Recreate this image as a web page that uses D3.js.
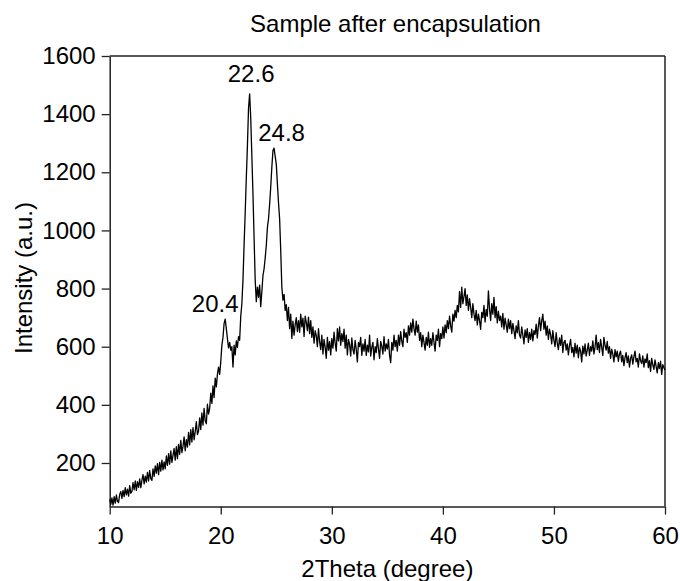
<!DOCTYPE html>
<html>
<head>
<meta charset="utf-8">
<script src="https://cdn.jsdelivr.net/npm/d3@7"></script>
<style>
  html, body { margin: 0; padding: 0; background: #fff; }
  svg { display: block; font-family: "Liberation Sans", Arial, sans-serif; }
</style>
</head>
<body>
<svg id="chart" width="680" height="581"></svg>
<script>
// ---- data ----
const thetaStart = 10;
const thetaStep = 0.1;
const intensity = [
  // 10.x
  75, 58, 80, 55, 84, 62, 90, 68, 64, 92,
  // 11.x
  102, 78, 106, 84, 115, 90, 110, 86, 122, 96,
  // 12.x
  102, 132, 108, 138, 106, 136, 116, 145, 115, 140,
  // 13.x
  160, 128, 155, 134, 168, 138, 174, 146, 140, 180,
  // 14.x
  154, 190, 165, 198, 160, 202, 172, 210, 176, 204,
  // 15.x
  180, 224, 192, 232, 196, 242, 202, 226, 250, 210,
  // 16.x
  256, 215, 264, 230, 278, 236, 258, 290, 242, 280,
  // 17.x
  255, 305, 262, 315, 272, 322, 280, 308, 342, 298,
  // 18.x
  310, 355, 315, 372, 330, 388, 345, 335, 402, 368,
  // 19.x
  388, 440, 405, 465, 425, 492, 462, 505, 530, 505,
  // 20.x
  548, 605, 632, 680, 695, 662, 628, 596, 615, 588,
  // 21.x
  600, 530, 605, 572, 620, 598, 635, 622, 705, 748,
  // 22.x
  830, 950, 1060, 1180, 1290, 1420, 1470, 1385, 1255, 1125,
  // 23.x
  975, 830, 755, 805, 770, 812, 738, 790, 845, 868,
  // 24.x
  905, 948, 1010, 1040, 1090, 1150, 1218, 1275, 1283, 1255,
  // 25.x
  1228, 1160, 1095, 1040, 930, 805, 760, 780, 725, 745,
  // 26.x
  690, 735, 662, 712, 628, 688, 640, 675, 700, 652,
  // 27.x
  690, 650, 712, 668, 698, 635, 705, 684, 655, 702,
  // 28.x
  645, 690, 632, 668, 612, 655, 638, 600, 662, 618,
  // 29.x
  590, 640, 575, 625, 598, 560, 632, 588, 618, 572,
  // 30.x
  628, 595, 650, 612, 585, 662, 620, 668, 605, 645,
  // 31.x
  618, 660, 595, 640, 572, 625, 608, 568, 630, 590,
  // 32.x
  575, 622, 590, 548, 615, 600, 632, 570, 610, 585,
  // 33.x
  625, 570, 605, 582, 640, 568, 598, 615, 555, 600,
  // 34.x
  580, 628, 592, 560, 618, 602, 575, 635, 585, 610,
  // 35.x
  592, 625, 570, 545, 615, 588, 640, 600, 622, 585,
  // 36.x
  640, 605, 652, 618, 600, 660, 632, 648, 615, 672,
  // 37.x
  640, 682, 650, 695, 662, 640, 688, 650, 675, 622,
  // 38.x
  648, 600, 640, 615, 588, 632, 605, 650, 598, 628,
  // 39.x
  605, 648, 615, 585, 640, 622, 660, 600, 645, 628,
  // 40.x
  668, 630, 675, 648, 690, 662, 705, 672, 650, 712,
  // 41.x
  688, 725, 700, 742, 720, 790, 735, 805, 748, 772,
  // 42.x
  800, 742, 778, 725, 765, 735, 700, 748, 712, 690,
  // 43.x
  725, 675, 712, 690, 660, 718, 700, 742, 685, 728,
  // 44.x
  705, 792, 730, 690, 748, 712, 770, 700, 738, 682,
  // 45.x
  722, 690, 705, 668, 715, 660, 698, 675, 650, 695,
  // 46.x
  662, 690, 645, 680, 655, 628, 672, 648, 690, 640,
  // 47.x
  630, 668, 640, 610, 658, 632, 662, 615, 648, 625,
  // 48.x
  660, 620, 655, 642, 678, 630, 672, 700, 655, 690,
  // 49.x
  712, 660, 688, 640, 672, 625, 660, 642, 610, 655,
  // 50.x
  622, 600, 648, 612, 590, 630, 605, 640, 580, 615,
  // 51.x
  622, 588, 610, 572, 605, 625, 580, 598, 565, 612,
  // 52.x
  578, 605, 562, 598, 585, 548, 602, 575, 610, 568,
  // 53.x
  588, 612, 570, 600, 585, 620, 575, 598, 640, 590,
  // 54.x
  615, 580, 625, 598, 570, 632, 605, 588, 618, 578,
  // 55.x
  600, 560, 592, 575, 548, 590, 565, 585, 550, 575,
  // 56.x
  585, 548, 570, 535, 562, 580, 545, 568, 530, 560,
  // 57.x
  572, 540, 565, 585, 548, 560, 530, 575, 552, 542,
  // 58.x
  568, 530, 558, 545, 575, 528, 552, 515, 560, 538,
  // 59.x
  522, 555, 532, 510, 545, 525, 550, 505, 538, 528,
  // 60.0
  520
];
const xTicks = [10, 20, 30, 40, 50, 60];
const yTicks = [200, 400, 600, 800, 1000, 1200, 1400, 1600];
const peakPositions = [20.4, 22.6, 24.8];
const peakLabels = ["20.4", "22.6", "24.8"];
const titleText = "Sample after encapsulation";
const xTitle = "2Theta (degree)";
const yTitle = "Intensity (a.u.)";

// ---- layout ----
const plotL = 109.7, plotR = 665, plotT = 56, plotB = 506.6;
const fontSize = "24px";
const svg = d3.select("#chart");

const x = d3.scaleLinear().domain([10, 60]).range([plotL, plotR]);
const y = d3.scaleLinear().domain([50, 1600]).range([plotB, plotT]);

const points = intensity.map((v, i) => [thetaStart + i * thetaStep, v]);

// frame (top and right)
svg.append("line").attr("x1", plotL).attr("x2", plotR).attr("y1", plotT).attr("y2", plotT)
  .attr("stroke", "#222").attr("stroke-width", 1.5);
svg.append("line").attr("x1", plotR).attr("x2", plotR).attr("y1", plotT).attr("y2", plotB)
  .attr("stroke", "#222").attr("stroke-width", 1.5);

// axes
const xAxis = svg.append("g").attr("transform", `translate(0,${plotB})`)
  .call(d3.axisBottom(x).tickValues(xTicks).tickFormat(d3.format("d")).tickSize(8).tickSizeOuter(0).tickPadding(12));
const yAxis = svg.append("g").attr("transform", `translate(${plotL},0)`)
  .call(d3.axisLeft(y).tickValues(yTicks).tickFormat(d3.format("d")).tickSize(8).tickSizeOuter(0).tickPadding(6));

[xAxis, yAxis].forEach(g => {
  g.select(".domain").attr("stroke", "#222").attr("stroke-width", 1.5);
  g.selectAll(".tick line").attr("stroke", "#222").attr("stroke-width", 1.3);
  g.selectAll(".tick text").attr("fill", "#000").style("font-size", fontSize)
    .style("font-family", "'Liberation Sans', Arial, sans-serif");
});

// data line
const line = d3.line().x(d => x(d[0])).y(d => y(d[1]));
svg.append("path").datum(points)
  .attr("d", line)
  .attr("fill", "none")
  .attr("stroke", "#000")
  .attr("stroke-width", 1.3)
  .attr("stroke-linejoin", "round");

// peak labels
const peakDx = [-10, 1.5, 7.5];
const peakDy = [-7, -11.5, -7];
peakPositions.forEach((p, i) => {
  const idx = Math.round((p - thetaStart) / thetaStep);
  let peakVal = intensity[idx];
  for (let k = idx - 1; k <= idx + 1; k++) peakVal = Math.max(peakVal, intensity[k]);
  svg.append("text")
    .attr("x", x(p) + peakDx[i])
    .attr("y", y(peakVal) + peakDy[i])
    .attr("text-anchor", "middle")
    .style("font-size", fontSize)
    .text(peakLabels[i]);
});

// titles
svg.append("text").attr("x", 395.5).attr("y", 31.5).attr("text-anchor", "middle")
  .style("font-size", fontSize).text(titleText);
svg.append("text").attr("x", (plotL + plotR) / 2).attr("y", 577).attr("text-anchor", "middle")
  .style("font-size", fontSize).text(xTitle);
svg.append("text").attr("transform", `translate(31.5,278) rotate(-90)`).attr("text-anchor", "middle")
  .style("font-size", fontSize).text(yTitle);
</script>
</body>
</html>
